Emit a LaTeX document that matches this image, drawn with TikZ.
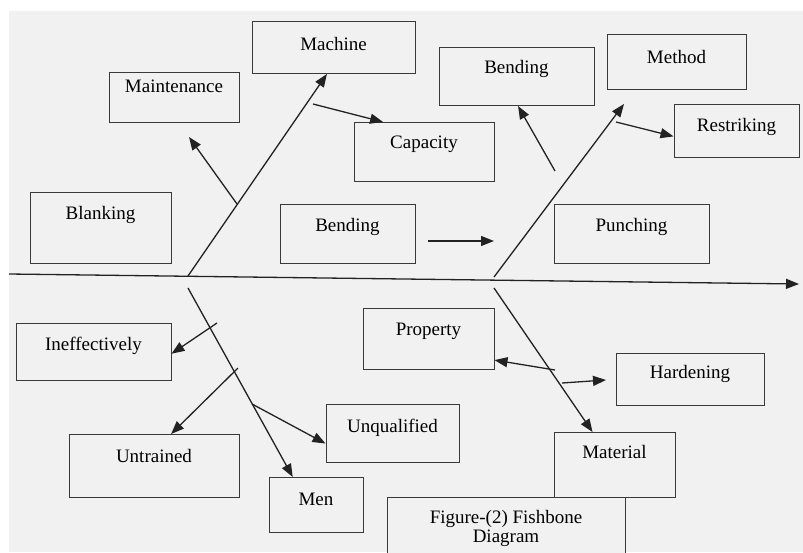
\documentclass[tikz,border=0pt]{standalone}
\usepackage{fontspec}
\setmainfont{Liberation Serif}
\usetikzlibrary{arrows.meta,calc}
\definecolor{bg}{HTML}{F1F1F1}
\definecolor{ln}{HTML}{222222}
\definecolor{bd}{HTML}{3A3A3A}
\tikzset{
  bx/.style={draw=bd, line width=1pt, fill=bg, inner sep=0pt, anchor=north,
             font=\fontsize{19}{21}\selectfont},
  ar/.style={draw=ln, line width=1.3pt, -{Triangle[length=13pt,width=10pt]}},
  bone/.style={draw=ln, line width=1.3pt}
}
\begin{document}
\begin{tikzpicture}[x=1pt,y=-1pt]
\path[use as bounding box] (0,0) rectangle (803,552);
\clip (0,0) rectangle (803,552);
\fill[bg] (9,11) rectangle (803,552);

% boxes
\node[bx, minimum width=163, text height=29, text depth=23] (machine) at (333.5,21) {Machine};
\node[bx, minimum width=130, text height=20, text depth=30] (maint) at (174,72) {Maintenance};
\node[bx, minimum width=140, text height=26, text depth=33] (capacity) at (424,122) {Capacity};
\node[bx, minimum width=141, text height=27, text depth=44] (blanking) at (100.5,192) {Blanking};
\node[bx, minimum width=135, text height=27, text depth=32] (bendmid) at (347.5,204) {Bending};
\node[bx, minimum width=155, text height=26, text depth=32] (bendtop) at (516.5,47) {Bending};
\node[bx, minimum width=139, text height=29, text depth=26] (method) at (676.5,34) {Method};
\node[bx, minimum width=125, text height=27, text depth=26] (restrik) at (736.5,104) {Restriking};
\node[bx, minimum width=155, text height=27, text depth=32] (punch) at (631.5,204) {Punching};
\node[bx, minimum width=155, text height=27, text depth=30] (ineff) at (93.5,323) {Ineffectively};
\node[bx, minimum width=170, text height=28, text depth=35] (untrained) at (154,434) {Untrained};
\node[bx, minimum width=94, text height=28, text depth=27] (men) at (316,477) {Men};
\node[bx, minimum width=133, text height=28, text depth=30] (unqual) at (392.5,404) {Unqualified};
\node[bx, minimum width=131, text height=27, text depth=34] (property) at (428.5,308) {Property};
\node[bx, minimum width=148, text height=25, text depth=27] (harden) at (690,353) {Hardening};
\node[bx, minimum width=121, text height=26, text depth=39] (material) at (614.5,432) {Material};
\node[bx, minimum width=238, minimum height=62, align=center] (figure) at (506,497) {Figure-(2) Fishbone\\[-2pt]Diagram};

% coordinates
\coordinate (sp0) at (9,274);
\coordinate (sp1) at (799,284);
\coordinate (j1) at (188,276);
\coordinate (j2) at (494,277);
\coordinate (j3) at (188,288);
\coordinate (j4) at (494,288);
\coordinate (mt0) at (237,204);
\coordinate (mt1) at (189,137);
\coordinate (cp0) at (313,104);
\coordinate (bm0) at (428,241);
\coordinate (bm1) at (494,241);
\coordinate (mh1) at (624,104);
\coordinate (bt0) at (555,171);
\coordinate (rs0) at (616,122);
\coordinate (ie0) at (217,323);
\coordinate (ut0) at (238,368);
\coordinate (uq0) at (252,404);
\coordinate (pr0) at (555,370);
\coordinate (hd0) at (562,383);
\coordinate (hd1) at (606,380);

% spine
\draw[ar] (sp0) -- (sp1);

% bones
\draw[ar] (j1) -- ($(machine.south west)!0.46!(machine.south east)$);
\draw[ar] (j2) -- (mh1);
\draw[ar] (j3) -- ($(men.north west)!0.255!(men.north east)$);
\draw[ar] (j4) -- ($(material.north west)!0.32!(material.north east)$);

% sub-causes
\draw[ar] (mt0) -- (mt1);
\draw[ar] (cp0) -- ($(capacity.north west)!0.21!(capacity.north east)$);
\draw[ar] (bm0) -- (bm1);
\draw[ar] (bt0) -- ($(bendtop.south west)!0.51!(bendtop.south east)$);
\draw[ar] (rs0) -- ($(restrik.north west)!0.6!(restrik.south west)$);
\draw[ar] (ie0) -- ($(ineff.north east)!0.53!(ineff.south east)$);
\draw[ar] (ut0) -- ($(untrained.north west)!0.6!(untrained.north east)$);
\draw[ar] (uq0) -- ($(unqual.north west)!0.67!(unqual.south west)$);
\draw[ar] (pr0) -- ($(property.north east)!0.84!(property.south east)$);
\draw[ar] (hd0) -- (hd1);
\end{tikzpicture}
\end{document}
